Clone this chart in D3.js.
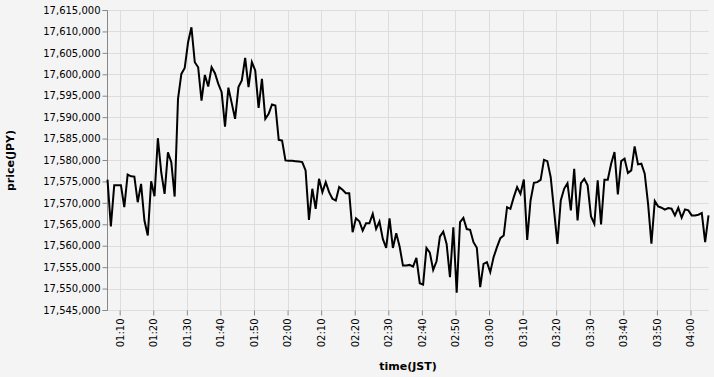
<!DOCTYPE html>
<html>
<head>
<meta charset="utf-8">
<script src="https://cdn.jsdelivr.net/npm/d3@7"></script>
<style>
  html, body { margin: 0; padding: 0; background: #f4f4f4; }
  svg { display: block; font-family: "DejaVu Sans", sans-serif; }
</style>
</head>
<body>
<div id="chart"></div>
<script>
// one sample per minute, starting at 01:06:13 JST
const startTime = "2024-01-01T01:06:13";
const stepMinutes = 1;

const prices = [
  17575550, 17564600, 17574200, 17574200, 17574200, 17569100, 17576700, 17576300, 17576250, 17570270,
  17574540, 17565990, 17562490, 17575160, 17571660, 17585200, 17577260, 17572200, 17581930, 17579600,
  17571590, 17594370, 17600200, 17601600, 17607590, 17611090, 17602920, 17601760, 17593980, 17599970,
  17597250, 17601760, 17600360, 17597870, 17595930, 17587920, 17597000, 17593380, 17589730, 17597120,
  17598670, 17603960, 17597120, 17602950, 17601000, 17592290, 17599060, 17589730, 17590890, 17593070,
  17592840, 17584830, 17584670, 17580010, 17579930, 17579930, 17579850, 17579770, 17579620, 17577670,
  17566160, 17573400, 17568730, 17575730, 17572620, 17574960, 17572620, 17571070, 17570680, 17573790,
  17573170, 17572360, 17572360, 17563260, 17566520, 17565820, 17563650, 17565360, 17565360, 17567540,
  17564040, 17565750, 17561700, 17559600, 17566520, 17559600, 17563030, 17559920, 17555480, 17555480,
  17555640, 17555250, 17557270, 17551360, 17551050, 17559600, 17558520, 17554470, 17556490, 17562250,
  17563410, 17560540, 17552760, 17564430, 17549180, 17565600, 17566600, 17564000, 17563830, 17560950,
  17559630, 17550450, 17555890, 17556280, 17553950, 17557450, 17559780, 17561880, 17562500, 17569110,
  17568730, 17571450, 17573780, 17572220, 17575570, 17561490, 17570670, 17574790, 17574950, 17575490,
  17580160, 17579850, 17576110, 17568340, 17560560, 17570670, 17573390, 17574710, 17568340, 17578060,
  17566000, 17574710, 17575730, 17574190, 17566960, 17565250, 17575360, 17565090, 17575510, 17575510,
  17579250, 17581970, 17572090, 17579870, 17580410, 17577070, 17577690, 17583290, 17579090, 17579250,
  17576910, 17569920, 17560580, 17570540, 17569290, 17568980, 17568520, 17568900, 17568750, 17567190,
  17568980, 17566650, 17568590, 17568360, 17567190, 17567190, 17567350, 17567740, 17560970, 17567190
];

const yTicks = [17545000, 17550000, 17555000, 17560000, 17565000, 17570000, 17575000,
                17580000, 17585000, 17590000, 17595000, 17600000, 17605000, 17610000, 17615000];

const xAxisLabel = "time(JST)";
const yAxisLabel = "price(JPY)";

const svgWidth = 714, svgHeight = 377;
const margin = {top: 10.5, right: 5.5, bottom: 66.5, left: 107.5};
const width = 601;
const height = 300;

const t0 = d3.isoParse(startTime);
const data = prices.map((p, i) => ({ t: d3.timeMinute.offset(t0, i * stepMinutes), p: p }));

const svg = d3.select("#chart").append("svg")
    .attr("width", svgWidth)
    .attr("height", svgHeight);

svg.append("rect")
    .attr("width", svgWidth)
    .attr("height", svgHeight)
    .attr("fill", "#f4f4f4");

const plotArea = svg.append("g")
    .attr("class", "plot-area")
    .attr("transform", `translate(${margin.left},${margin.top})`);

const xscale = d3.scaleTime()
    .domain(d3.extent(data, d => d.t))
    .range([0, width]);

const yscale = d3.scaleLinear()
    .domain([yTicks[0], yTicks[yTicks.length - 1]])
    .range([height, 0]);

const xTicks = d3.timeMinute.every(10).range(xscale.domain()[0], xscale.domain()[1]);

// grid
const grid = plotArea.append("g").attr("class", "grid");
grid.selectAll(".gx")
    .data(xTicks)
    .join("line")
        .attr("class", "gx")
        .attr("x1", d => Math.round(xscale(d)))
        .attr("x2", d => Math.round(xscale(d)))
        .attr("y1", 0)
        .attr("y2", height)
        .attr("stroke", "#ddd");
grid.selectAll(".gy")
    .data(yTicks)
    .join("line")
        .attr("class", "gy")
        .attr("x1", 0)
        .attr("x2", width)
        .attr("y1", d => Math.round(yscale(d)))
        .attr("y2", d => Math.round(yscale(d)))
        .attr("stroke", "#ddd");

// axes
const xAxis = d3.axisBottom(xscale)
    .tickValues(xTicks)
    .tickFormat(d3.timeFormat("%H:%M"))
    .tickSize(5)
    .offset(0);

const gX = plotArea.append("g")
    .attr("class", "axis-x")
    .attr("transform", `translate(0,${height})`)
    .call(xAxis);
gX.select(".domain").remove();
gX.selectAll(".tick line").attr("stroke", "#888");
gX.selectAll(".tick text")
    .attr("transform", "rotate(-90)")
    .attr("x", -8)
    .attr("y", 0)
    .attr("dy", "0.34em")
    .attr("text-anchor", "end")
    .attr("font-size", 10)
    .attr("font-family", "DejaVu Sans, sans-serif")
    .attr("fill", "#000");

const yAxis = d3.axisLeft(yscale)
    .tickValues(yTicks)
    .tickFormat(d3.format(","))
    .tickSize(5)
    .tickPadding(2)
    .offset(0);

const gY = plotArea.append("g")
    .attr("class", "axis-y")
    .call(yAxis);
gY.select(".domain").attr("stroke", "#888");
gY.selectAll(".tick line").attr("stroke", "#888");
gY.selectAll(".tick text")
    .attr("font-size", 10)
    .attr("font-family", "DejaVu Sans, sans-serif")
    .attr("fill", "#000");

// titles
svg.append("text")
    .attr("x", margin.left + width / 2)
    .attr("y", 369.5)
    .attr("text-anchor", "middle")
    .attr("font-size", 11)
    .attr("font-weight", "bold")
    .attr("fill", "#000")
    .text(xAxisLabel);

svg.append("text")
    .attr("transform", `translate(13.5,${margin.top + height / 2}) rotate(-90)`)
    .attr("text-anchor", "middle")
    .attr("font-size", 11)
    .attr("font-weight", "bold")
    .attr("fill", "#000")
    .text(yAxisLabel);

// price line
const line = d3.line()
    .x(d => xscale(d.t))
    .y(d => yscale(d.p));

plotArea.append("path")
    .datum(data)
    .attr("class", "line")
    .attr("fill", "none")
    .attr("stroke", "#000")
    .attr("stroke-width", 2)
    .attr("d", line);
</script>
</body>
</html>
